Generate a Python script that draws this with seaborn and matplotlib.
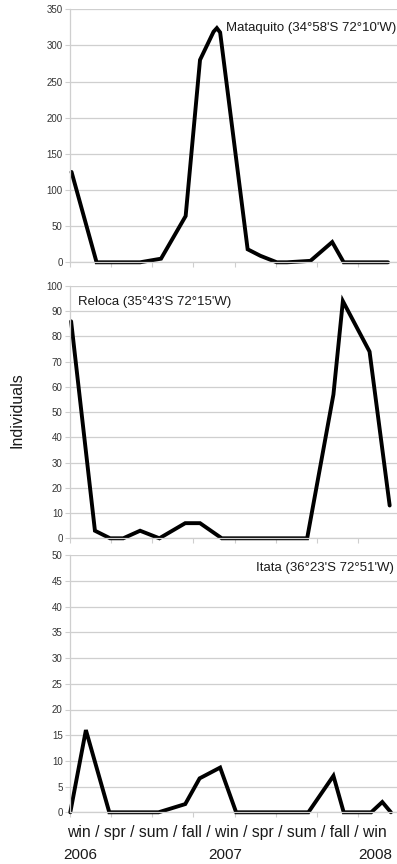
import matplotlib
matplotlib.use("Agg")
import matplotlib.pyplot as plt
import seaborn as sns
import pandas as pd

sns.set_theme(style="white")
plt.rcParams["font.family"] = ["Liberation Sans", "DejaVu Sans"]

# Sampling times in seasons since winter 2006 (1 unit = one season)
mataquito_t = [0.03, 0.64, 1.70, 2.21, 2.81, 3.16, 3.49, 3.57, 3.65, 4.32, 4.63, 5.03, 5.28, 5.85, 6.38, 6.66, 7.74]
mataquito_n = [125, 0, 0, 5, 64, 280, 319, 324, 318, 18, 9, 0, 0, 2, 28, 0, 0]

reloca_t = [0.02, 0.60, 0.97, 1.29, 1.70, 2.17, 2.80, 3.16, 3.69, 5.77, 6.41, 6.64, 7.29, 7.78]
reloca_n = [86, 3, 0, 0, 3, 0, 6, 6, 0, 0, 57, 94, 74, 13]

itata_t = [0.0, 0.38, 0.95, 2.15, 2.80, 3.15, 3.65, 4.04, 5.80, 6.41, 6.66, 7.33, 7.60, 7.81]
itata_n = [0, 16, 0, 0, 1.6, 6.6, 8.7, 0, 0, 7.1, 0, 0, 2, 0]

site_labels = ["Mataquito (34°58'S 72°10'W)", "Reloca (35°43'S 72°15'W)", "Itata (36°23'S 72°51'W)"]
season_labels = "win / spr / sum / fall / win / spr / sum / fall / win"
year_labels = ["2006", "2007", "2008"]

W, H = 397, 864
fig = plt.figure(figsize=(W / 100, H / 100), dpi=100)

def frame(top_px, bottom_px):
    left = 70.3 / W
    return [left, 1 - bottom_px / H, 1 - left, (bottom_px - top_px) / H]

panels = [
    dict(t=mataquito_t, n=mataquito_n, ylim=350, step=50, box=frame(9.3, 262.3),
         label=site_labels[0], lx=0.997, ly=0.926, ha="right"),
    dict(t=reloca_t, n=reloca_n, ylim=100, step=10, box=frame(286.0, 538.3),
         label=site_labels[1], lx=0.025, ly=0.935, ha="left"),
    dict(t=itata_t, n=itata_n, ylim=50, step=5, box=frame(555.3, 812.3),
         label=site_labels[2], lx=0.99, ly=0.95, ha="right"),
]

grid_c = "#cfcfcf"
for p in panels:
    ax = fig.add_axes(p["box"])
    df = pd.DataFrame({"t": p["t"], "n": p["n"]})
    sns.lineplot(data=df, x="t", y="n", ax=ax, color="black", linewidth=2.8,
                 clip_on=False, solid_joinstyle="miter")
    ax.set_xlim(0, (W - 70.3) / 41.05)
    ax.set_ylim(0, p["ylim"])
    ax.set_yticks(range(0, p["ylim"] + 1, p["step"]))
    ax.set_xticks(range(0, 8))
    ax.set_xticklabels([])
    ax.set_xlabel("")
    ax.set_ylabel("")
    ax.grid(axis="y", color=grid_c, linewidth=0.9)
    ax.set_axisbelow(True)
    for s in ["top", "right"]:
        ax.spines[s].set_visible(False)
    ax.spines["left"].set_color(grid_c)
    ax.spines["bottom"].set_color(grid_c)
    ax.spines["left"].set_linewidth(0.9)
    ax.spines["bottom"].set_linewidth(0.9)
    ax.tick_params(axis="y", length=3.5, width=0.8, color=grid_c, labelsize=7,
                   labelcolor="#333333", pad=2, left=True)
    ax.tick_params(axis="x", length=3.5, width=0.8, color=grid_c, bottom=True)
    ax.patch.set_alpha(0)
    ax.text(p["lx"], p["ly"], p["label"], transform=ax.transAxes, ha=p["ha"],
            va="center", fontsize=9.5, color="#1a1a1a")

fig.text(17 / W, 1 - 410 / H, "Individuals", rotation=90, ha="center", va="center",
         fontsize=11.5, color="#1a1a1a")
fig.text(226.5 / W, 1 - 832 / H, season_labels, ha="center", va="center", fontsize=11.3,
         color="#1a1a1a")
for x_px, yr in zip([80, 225, 375], year_labels):
    fig.text(x_px / W, 1 - 855 / H, yr, ha="center", va="center", fontsize=11,
             color="#1a1a1a")

fig.savefig("out.png", dpi=100, facecolor="white")
